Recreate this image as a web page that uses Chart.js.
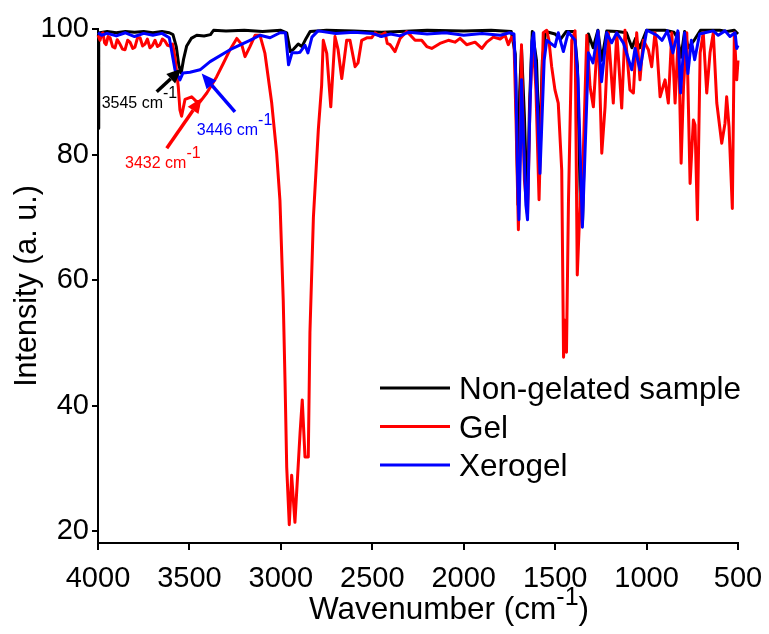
<!DOCTYPE html>
<html lang="en">
<head>
  <meta charset="UTF-8" />
  <title>FTIR spectra</title>
  <script src="https://cdn.jsdelivr.net/npm/chart.js"></script>
  <style>
    body { margin: 0; background: #fff; }
    #wrap { width: 769px; height: 634px; }
  </style>
</head>
<body>
  <div id="wrap"><canvas id="ftirChart" width="769" height="634"></canvas></div>

  <script>
    const FONT = "'Liberation Sans', Arial, sans-serif";

    const xTicks = [4000, 3500, 3000, 2500, 2000, 1500, 1000, 500];
    const yTicks = [20, 40, 60, 80, 100];

    // [wavenumber, intensity]
    const nonGelated = [
      [4000, 84.2], [3996, 98.8], [3990, 99.4], [3950, 99.6], [3900, 99.4], [3850, 99.6],
      [3800, 99.5], [3750, 99.6], [3700, 99.4], [3650, 99.6], [3610, 99.4], [3590, 99.1],
      [3572, 97.2], [3558, 94.2], [3545, 93.0], [3532, 95.2], [3515, 97.3], [3490, 98.5],
      [3460, 99.0], [3420, 98.9], [3385, 99.1], [3368, 99.8], [3300, 99.7], [3200, 99.8],
      [3100, 99.6], [3000, 99.8], [2968, 99.4], [2956, 97.6], [2948, 96.4], [2930, 96.8],
      [2905, 97.6], [2885, 97.2], [2862, 98.5], [2840, 99.6], [2750, 99.8], [2600, 99.7],
      [2450, 99.5], [2350, 99.6], [2200, 99.8], [2000, 99.7], [1850, 99.8], [1740, 99.6],
      [1718, 96], [1703, 72], [1694, 90], [1684, 97], [1668, 86], [1652, 71], [1640, 88],
      [1625, 99.6], [1602, 95], [1585, 80], [1570, 95], [1552, 99.6], [1500, 99.2],
      [1470, 98.4], [1440, 99.6], [1395, 99.6], [1378, 94], [1362, 72], [1350, 69.5],
      [1336, 86], [1318, 99.2], [1292, 97], [1266, 99.8], [1246, 95], [1218, 99.7],
      [1160, 99.6], [1110, 99.4], [1080, 97], [1060, 98.5], [1038, 97], [1000, 99.8],
      [900, 99.8], [850, 99.5], [830, 98.5], [812, 95.5], [792, 99.6], [772, 97],
      [740, 98.2], [705, 99.8], [600, 99.8], [560, 99.6], [520, 99.8], [500, 99.2]
    ];

    const gel = [
      [4000, 99.0], [3989, 98.2], [3980, 99.2], [3973, 99.4], [3964, 97.8], [3956, 97.5],
      [3945, 98.8], [3934, 98.6], [3920, 97.2], [3907, 97.0], [3895, 98.3], [3880, 97.6],
      [3866, 96.8], [3852, 96.7], [3838, 98.2], [3825, 97.9], [3810, 96.9], [3798, 97.1],
      [3784, 98.6], [3770, 98.6], [3756, 97.3], [3743, 97.6], [3730, 98.4], [3716, 97.0],
      [3702, 97.4], [3688, 98.2], [3675, 97.2], [3661, 97.5], [3648, 98.4], [3634, 98.1],
      [3620, 97.4], [3606, 97.3], [3592, 97.6], [3579, 95.5], [3561, 90.8], [3552, 87.1],
      [3543, 86.1], [3524, 88.8], [3488, 89.2], [3464, 88.5], [3442, 88.4], [3405, 89.8],
      [3351, 92.4], [3315, 94.5], [3278, 96.7], [3241, 98.5], [3214, 97.5], [3196, 95.6],
      [3169, 97.2], [3141, 99.0], [3114, 99.0], [3087, 96.1], [3050, 88.2], [3023, 80.2],
      [3005, 72.7], [2987, 56.8], [2977, 43.6], [2968, 30.2], [2954, 21.0], [2941, 28.9],
      [2923, 21.4], [2895, 35.6], [2883, 40.9], [2868, 31.8], [2850, 31.8], [2841, 51.6],
      [2822, 70.0], [2795, 84.0], [2777, 91.0], [2768, 98.2], [2749, 96.1], [2727, 87.6],
      [2704, 98.8], [2687, 96.7], [2667, 92.1], [2640, 98.2], [2622, 98.2], [2594, 94.0],
      [2578, 94.6], [2558, 98.2], [2530, 98.6], [2503, 98.6], [2485, 99.4], [2458, 98.9],
      [2430, 99.4], [2418, 97.7], [2403, 97.5], [2376, 96.4], [2348, 98.5], [2312, 99.6],
      [2288, 98.9], [2266, 98.2], [2230, 98.2], [2202, 97.2], [2175, 96.9], [2130, 97.7],
      [2084, 98.2], [2048, 97.9], [2020, 98.5], [1984, 97.5], [1938, 97.9], [1901, 96.9],
      [1874, 97.9], [1838, 98.7], [1801, 98.4], [1774, 99.0], [1756, 97.5], [1738, 98.7],
      [1725, 97.9], [1714, 85.5], [1701, 68.0], [1692, 80.7], [1684, 97.5], [1676, 85.5],
      [1668, 75.9], [1651, 70.4], [1637, 88.7], [1621, 98.6], [1605, 90.3], [1588, 72.8],
      [1577, 85.5], [1565, 99.4], [1546, 99.8], [1534, 98.2], [1519, 94.0], [1501, 90.3],
      [1483, 88.2], [1464, 77.5], [1454, 47.7], [1446, 53.6], [1438, 48.5], [1427, 72.7],
      [1409, 98.2], [1391, 99.7], [1379, 60.8], [1361, 74.0], [1346, 80.2], [1327, 99.0],
      [1309, 90.8], [1291, 87.6], [1273, 96.2], [1264, 99.4], [1245, 80.2], [1227, 87.6],
      [1209, 99.4], [1182, 88.2], [1163, 99.4], [1136, 87.4], [1118, 99.8], [1091, 90.3],
      [1072, 89.8], [1054, 99.4], [1036, 91.9], [1018, 98.2], [990, 96.7], [972, 94.0],
      [954, 99.4], [944, 97.2], [926, 89.2], [899, 91.9], [881, 88.2], [862, 99.4],
      [844, 88.2], [826, 99.4], [811, 78.6], [798, 90.8], [780, 99.4], [762, 75.4],
      [744, 85.5], [735, 84.7], [722, 69.6], [707, 96.2], [690, 99.4], [671, 89.8],
      [653, 96.2], [635, 99.4], [616, 88.2], [589, 81.8], [571, 85.0], [562, 89.2],
      [549, 84.4], [531, 71.4], [520, 99.4], [507, 91.9], [500, 95.0]
    ];

    const xerogel = [
      [4000, 99.4], [3980, 99.0], [3950, 99.3], [3900, 98.9], [3850, 99.4], [3800, 98.8],
      [3750, 99.3], [3700, 99.0], [3650, 99.3], [3610, 98.6], [3579, 93.5], [3562, 92.5],
      [3552, 91.9], [3535, 93.0], [3497, 93.1], [3442, 93.5], [3387, 94.8], [3278, 96.7],
      [3169, 98.2], [3114, 99.0], [3059, 98.6], [3005, 99.4], [2975, 99.4], [2958, 94.3],
      [2939, 96.2], [2912, 96.2], [2895, 96.3], [2868, 97.4], [2852, 96.2], [2830, 98.7],
      [2797, 99.7], [2700, 99.3], [2600, 99.5], [2500, 99.3], [2450, 98.8], [2400, 99.2],
      [2350, 98.9], [2300, 99.5], [2200, 99.2], [2100, 99.4], [2000, 99.0], [1900, 99.3],
      [1800, 99.0], [1750, 99.4], [1725, 99.2], [1715, 92.0], [1704, 75.0], [1698, 69.6],
      [1690, 80.0], [1684, 91.9], [1676, 85.0], [1660, 72.0], [1651, 69.6], [1640, 85.0],
      [1627, 98.0], [1617, 99.4], [1600, 90.0], [1583, 77.0], [1560, 95.0], [1546, 98.2],
      [1501, 97.2], [1483, 99.4], [1455, 96.4], [1428, 99.5], [1391, 98.2], [1375, 92.0],
      [1351, 68.4], [1337, 80.0], [1318, 96.2], [1293, 94.6], [1266, 99.7], [1246, 91.6],
      [1218, 99.4], [1191, 97.8], [1163, 99.4], [1127, 97.8], [1081, 93.5], [1063, 96.9],
      [1036, 93.5], [999, 99.8], [944, 99.0], [915, 98.2], [886, 99.7], [856, 96.2],
      [829, 99.7], [814, 89.8], [792, 99.4], [774, 92.9], [755, 98.2], [737, 95.1],
      [710, 99.2], [682, 99.4], [635, 99.7], [608, 99.0], [571, 99.7], [544, 98.8],
      [516, 99.4], [507, 96.9], [500, 97.4]
    ];

    // peak callouts, all positions in data units (wavenumber, intensity)
    const peakNotes = [
      { text: "3545 cm", color: "#000000", at: [3980, 87.4], from: [3679, 90.0], to: [3542, 93.7] },
      { text: "3446 cm", color: "#0000ff", at: [3460, 83.1], from: [3251, 86.8], to: [3433, 92.9] },
      { text: "3432 cm", color: "#ff0000", at: [3852, 77.8], from: [3624, 81.0], to: [3433, 89.0] }
    ];

    const toPoints = arr => arr.map(p => ({ x: p[0], y: p[1] }));

    function drawSup(ctx, base, sup, x, y, size, supSize, raise) {
      ctx.font = size + "px " + FONT;
      ctx.fillText(base, x, y);
      const w = ctx.measureText(base).width;
      ctx.font = supSize + "px " + FONT;
      ctx.fillText(sup, x + w, y - raise);
      return x + w + ctx.measureText(sup).width;
    }

    function drawArrow(ctx, x1, y1, x2, y2, color) {
      const ang = Math.atan2(y2 - y1, x2 - x1);
      const head = 15, half = 6.5;
      ctx.strokeStyle = color;
      ctx.fillStyle = color;
      ctx.lineWidth = 3.5;
      ctx.beginPath();
      ctx.moveTo(x1, y1);
      ctx.lineTo(x2 - head * Math.cos(ang), y2 - head * Math.sin(ang));
      ctx.stroke();
      ctx.beginPath();
      ctx.moveTo(x2, y2);
      ctx.lineTo(x2 - head * Math.cos(ang) + half * Math.sin(ang), y2 - head * Math.sin(ang) - half * Math.cos(ang));
      ctx.lineTo(x2 - head * Math.cos(ang) - half * Math.sin(ang), y2 - head * Math.sin(ang) + half * Math.cos(ang));
      ctx.closePath();
      ctx.fill();
    }

    const decorations = {
      id: "decorations",
      afterDraw(chart) {
        const { ctx, chartArea, scales } = chart;
        const sx = scales.x, sy = scales.y;
        ctx.save();

        // callouts
        peakNotes.forEach(n => {
          drawArrow(ctx, sx.getPixelForValue(n.from[0]), sy.getPixelForValue(n.from[1]),
            sx.getPixelForValue(n.to[0]), sy.getPixelForValue(n.to[1]), n.color);
          ctx.fillStyle = n.color;
          ctx.textBaseline = "alphabetic";
          ctx.textAlign = "left";
          drawSup(ctx, n.text, "-1", sx.getPixelForValue(n.at[0]), sy.getPixelForValue(n.at[1]), 16, 16, 10);
        });

        // legend
        const lx = 380, ly = 388, gap = 38.5;
        chart.data.datasets.forEach((ds, i) => {
          const y = ly + i * gap;
          ctx.strokeStyle = ds.borderColor;
          ctx.lineWidth = 3;
          ctx.beginPath();
          ctx.moveTo(lx, y);
          ctx.lineTo(lx + 70, y);
          ctx.stroke();
          ctx.fillStyle = "#000";
          ctx.font = "31.5px " + FONT;
          ctx.textAlign = "left";
          ctx.textBaseline = "alphabetic";
          ctx.fillText(ds.label, lx + 79, y + 11);
        });

        // axis titles
        ctx.fillStyle = "#000";
        ctx.font = "30.5px " + FONT;
        ctx.save();
        ctx.translate(28, (chartArea.top + chartArea.bottom) / 2);
        ctx.rotate(-Math.PI / 2);
        ctx.textAlign = "center";
        ctx.textBaseline = "middle";
        ctx.fillText("Intensity (a. u.)", 0, 0);
        ctx.restore();

        ctx.textAlign = "left";
        ctx.textBaseline = "alphabetic";
        ctx.font = "31.5px " + FONT;
        const wBase = ctx.measureText("Wavenumber (cm").width;
        const wClose = ctx.measureText(")").width;
        ctx.font = "25px " + FONT;
        const wSup = ctx.measureText("-1").width;
        const total = wBase + wSup + wClose;
        const cx = 449;
        const end = drawSup(ctx, "Wavenumber (cm", "-1", cx - total / 2, 619, 31.5, 25, 14);
        ctx.font = "31.5px " + FONT;
        ctx.fillText(")", end, 619);

        ctx.restore();
      }
    };

    const ctx = document.getElementById("ftirChart").getContext("2d");
    new Chart(ctx, {
      type: "line",
      data: {
        datasets: [
          { label: "Non-gelated sample", data: toPoints(nonGelated), borderColor: "#000000", order: 2 },
          { label: "Gel", data: toPoints(gel), borderColor: "#ff0000", order: 1 },
          { label: "Xerogel", data: toPoints(xerogel), borderColor: "#0000ff", order: 0 }
        ]
      },
      options: {
        responsive: false,
        animation: false,
        layout: { padding: { top: 29, right: 31, left: 0, bottom: 0 } },
        elements: {
          point: { radius: 0 },
          line: { borderWidth: 3, tension: 0, borderJoinStyle: "round" }
        },
        datasets: { line: { clip: 4 } },
        plugins: {
          legend: { display: false },
          tooltip: { enabled: false }
        },
        scales: {
          x: {
            type: "linear",
            reverse: true,
            min: 500,
            max: 4000,
            afterBuildTicks: s => { s.ticks = xTicks.map(v => ({ value: v })); },
            afterFit: s => { s.height = 91; },
            ticks: {
              color: "#000", font: { family: FONT, size: 29, lineHeight: 1.75 }, padding: 4, maxRotation: 0,
              callback: v => String(v)
            },
            grid: { drawOnChartArea: false, tickLength: 7, color: "#000", lineWidth: 2 },
            border: { color: "#000", width: 2 }
          },
          y: {
            min: 18.1,
            max: 100,
            afterBuildTicks: s => { s.ticks = yTicks.map(v => ({ value: v })); },
            afterFit: s => { s.width = 98; },
            ticks: { color: "#000", font: { family: FONT, size: 29 }, padding: 3, callback: v => String(v) },
            grid: { drawOnChartArea: false, tickLength: 6, color: "#000", lineWidth: 2 },
            border: { color: "#000", width: 2 }
          }
        }
      },
      plugins: [decorations]
    });
  </script>
</body>
</html>
